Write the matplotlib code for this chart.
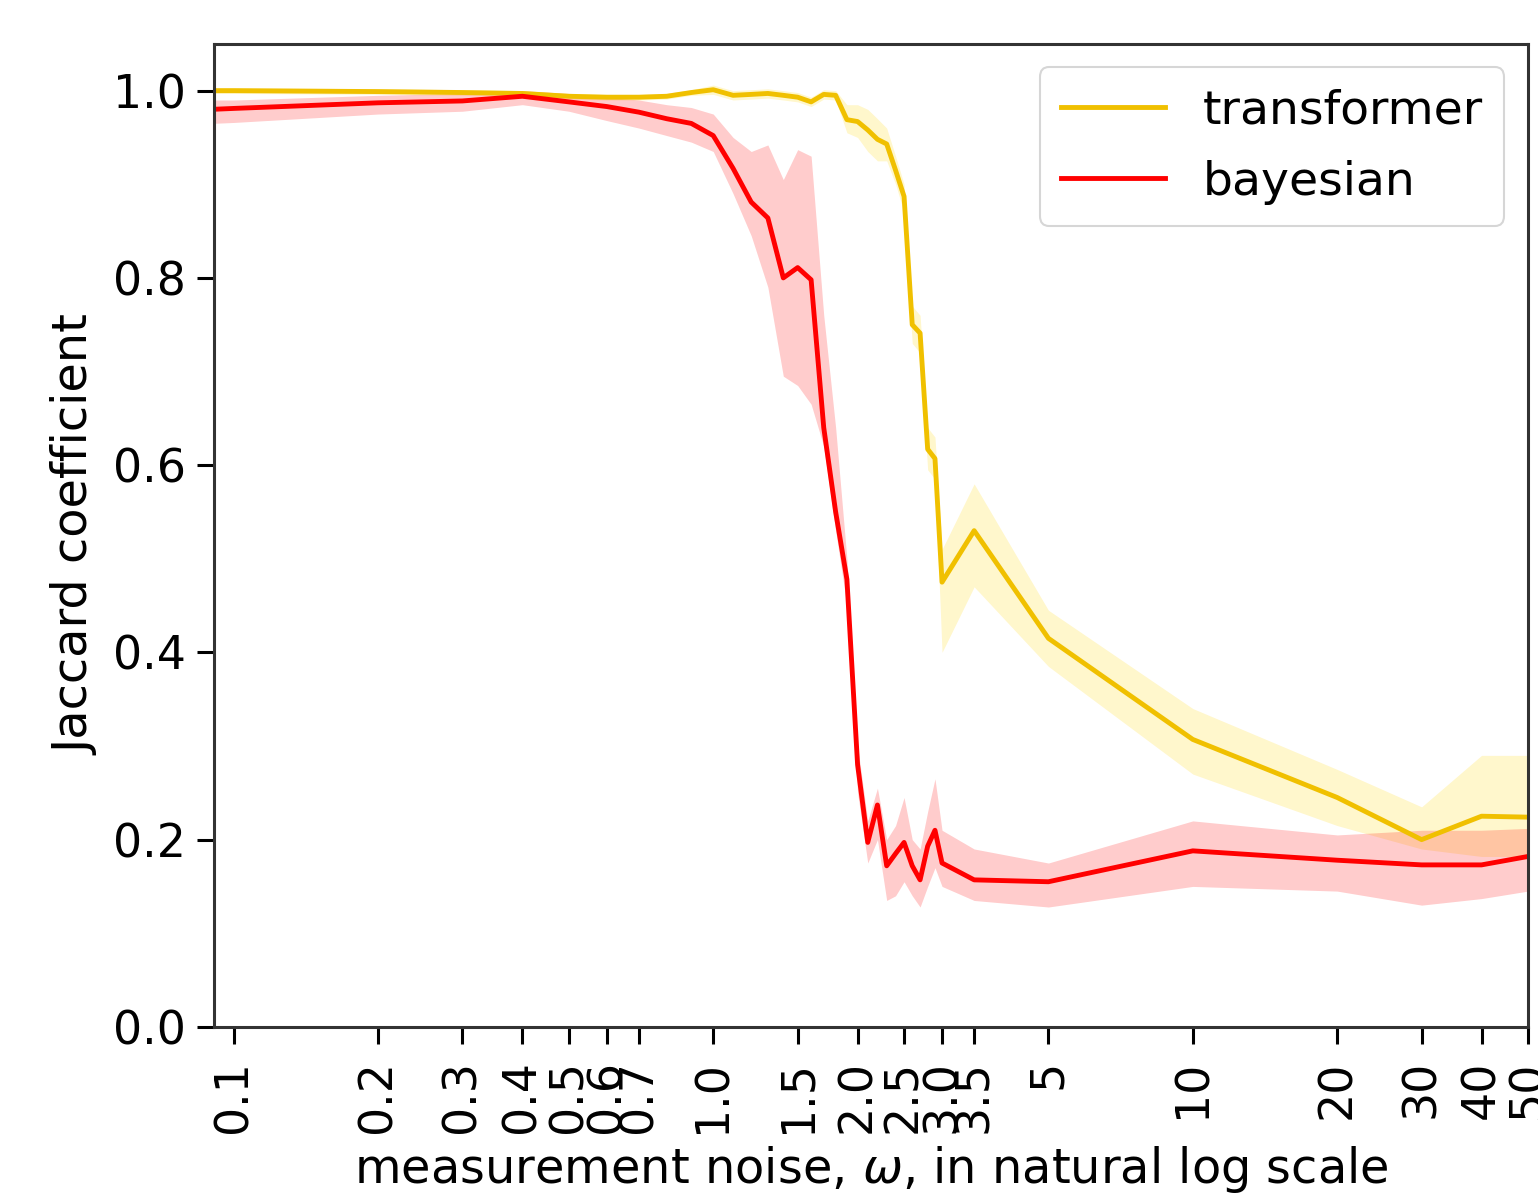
import matplotlib
matplotlib.use("Agg")
import matplotlib.pyplot as plt
from matplotlib.ticker import FixedLocator, FixedFormatter, NullLocator

# noise levels
noise = [0.09, 0.1, 0.2, 0.3, 0.4, 0.5, 0.6, 0.7, 0.8, 0.9,
         1.0, 1.1, 1.2, 1.3, 1.4, 1.5, 1.6, 1.7, 1.8, 1.9,
         2.0, 2.1, 2.2, 2.3, 2.4, 2.5, 2.6, 2.7, 2.8, 2.9,
         3.0, 3.5, 5, 10, 20, 30, 40, 50]

transformer_mean = [1.0, 1.0, 0.999, 0.998, 0.997, 0.994, 0.993, 0.993, 0.994, 0.998,
                    1.001, 0.995, 0.996, 0.997, 0.995, 0.993, 0.988, 0.996, 0.995, 0.969,
                    0.967, 0.958, 0.948, 0.943, 0.915, 0.887, 0.750, 0.741, 0.617, 0.607,
                    0.475, 0.530, 0.415, 0.307, 0.245, 0.200, 0.225, 0.224]
transformer_upper = [1.003, 1.003, 1.002, 1.001, 1.0, 0.997, 0.996, 0.996, 0.997, 1.001,
                     1.006, 1.0, 1.001, 1.002, 1.0, 0.998, 0.993, 1.001, 1.0, 0.985,
                     0.985, 0.980, 0.970, 0.960, 0.930, 0.900, 0.770, 0.760, 0.640, 0.630,
                     0.510, 0.580, 0.445, 0.340, 0.275, 0.235, 0.290, 0.290]
transformer_lower = [0.997, 0.997, 0.996, 0.995, 0.994, 0.991, 0.990, 0.990, 0.991, 0.995,
                     0.996, 0.990, 0.991, 0.992, 0.990, 0.988, 0.983, 0.991, 0.990, 0.955,
                     0.950, 0.935, 0.925, 0.925, 0.900, 0.870, 0.730, 0.720, 0.595, 0.585,
                     0.400, 0.470, 0.385, 0.270, 0.215, 0.190, 0.182, 0.182]

bayesian_mean = [0.980, 0.981, 0.987, 0.989, 0.994, 0.988, 0.983, 0.977, 0.970, 0.965,
                 0.952, 0.917, 0.881, 0.864, 0.800, 0.811, 0.798, 0.640, 0.550, 0.478,
                 0.280, 0.197, 0.237, 0.172, 0.185, 0.197, 0.172, 0.157, 0.193, 0.210,
                 0.175, 0.157, 0.155, 0.188, 0.178, 0.173, 0.173, 0.182]
bayesian_upper = [0.990, 0.990, 0.995, 0.997, 1.0, 0.997, 0.993, 0.990, 0.985, 0.982,
                  0.975, 0.950, 0.935, 0.942, 0.905, 0.937, 0.930, 0.760, 0.640, 0.500,
                  0.300, 0.220, 0.255, 0.200, 0.215, 0.245, 0.200, 0.190, 0.230, 0.265,
                  0.210, 0.190, 0.175, 0.220, 0.205, 0.210, 0.210, 0.212]
bayesian_lower = [0.965, 0.966, 0.975, 0.978, 0.985, 0.978, 0.968, 0.960, 0.952, 0.945,
                  0.935, 0.890, 0.845, 0.790, 0.695, 0.685, 0.665, 0.620, 0.530, 0.450,
                  0.250, 0.175, 0.200, 0.135, 0.140, 0.155, 0.140, 0.128, 0.150, 0.170,
                  0.150, 0.135, 0.128, 0.150, 0.145, 0.130, 0.137, 0.145]

tick_values = [0.1, 0.2, 0.3, 0.4, 0.5, 0.6, 0.7, 1.0, 1.5, 2.0, 2.5, 3.0, 3.5,
               5, 10, 20, 30, 40, 50]
tick_labels = ["0.1", "0.2", "0.3", "0.4", "0.5", "0.6", "0.7", "1.0", "1.5", "2.0",
               "2.5", "3.0", "3.5", "5", "10", "20", "30", "40", "50"]

yellow = "#f0c000"
red = "#ff0000"
fs = 33
fs_label = 34.5

fig = plt.figure(figsize=(15.38, 12.01), dpi=100)
ax = fig.add_axes([0.139, 0.145, 0.8545, 0.8185])

ax.fill_between(noise, transformer_lower, transformer_upper, color="gold", alpha=0.2, linewidth=0)
ax.plot(noise, transformer_mean, color=yellow, lw=3.5, label="transformer")
ax.fill_between(noise, bayesian_lower, bayesian_upper, color=red, alpha=0.2, linewidth=0)
ax.plot(noise, bayesian_mean, color=red, lw=3.5, label="bayesian")

ax.set_xscale("log")
ax.set_xlim(0.0909, 50)
ax.set_ylim(0, 1.05)
ax.xaxis.set_major_locator(FixedLocator(tick_values))
ax.xaxis.set_major_formatter(FixedFormatter(tick_labels))
ax.xaxis.set_minor_locator(NullLocator())
ax.set_yticks([0.0, 0.2, 0.4, 0.6, 0.8, 1.0])
ax.set_yticklabels(["0.0", "0.2", "0.4", "0.6", "0.8", "1.0"])

ax.tick_params(axis="x", labelsize=fs, rotation=90, length=12, width=2.2, pad=12)
ax.tick_params(axis="y", labelsize=fs, length=12, width=2.2, pad=8)
for s in ax.spines.values():
    s.set_linewidth(2.2)
    s.set_color("#333333")

ax.set_xlabel(r"measurement noise, $\omega$, in natural log scale", fontsize=fs_label, labelpad=8)
ax.set_ylabel("Jaccard coefficient", fontsize=fs_label, labelpad=10)

leg = ax.legend(loc="upper right", fontsize=34, frameon=True, borderpad=0.45,
                handlelength=2.2, handletextpad=0.8, labelspacing=0.55)
leg.get_frame().set_linewidth(1.5)

fig.savefig("out.png", dpi=100)
